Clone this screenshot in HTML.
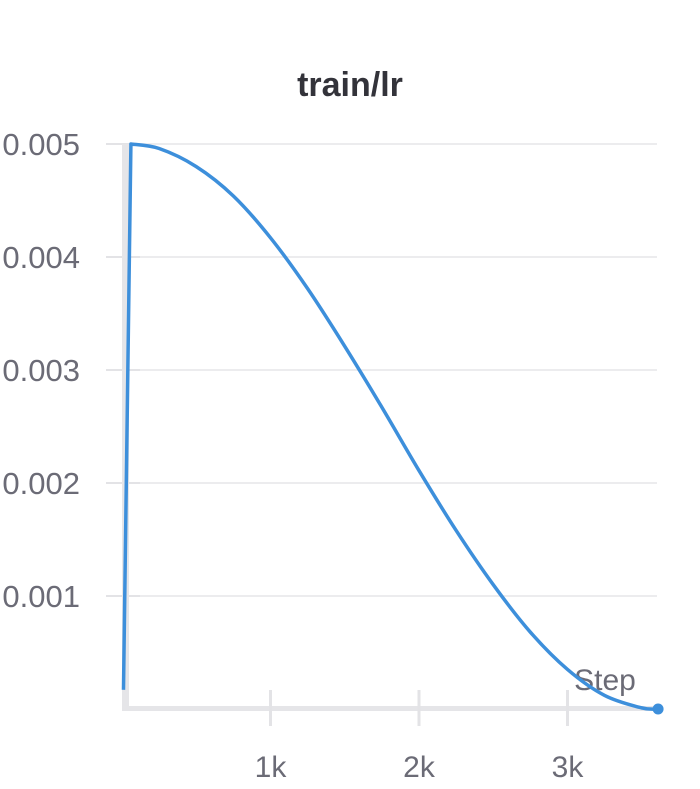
<!DOCTYPE html>
<html><head><meta charset="utf-8"><style>
body{margin:0;background:#fff;width:700px;height:784px;overflow:hidden}
text{font-family:"Liberation Sans",sans-serif}
</style></head><body>
<svg id="chart" width="700" height="784" xmlns="http://www.w3.org/2000/svg">
<text x="350" y="96" text-anchor="middle" font-size="34" font-weight="bold" fill="#33333a">train/lr</text>
<g id="grid"></g><g id="axes"></g><g id="series"></g>
</svg>
<script>
const steps=[10,60,250,500,750,1000,1250,1500,1750,2000,2250,2500,2750,3000,3250,3500,3610];
const lrValues=[0.00017,0.005,0.00496,0.0048,0.00454,0.00417,0.00372,0.00321,0.00267,0.00211,0.00158,0.0011,0.00068,0.00035,0.00012,0.00001,0];
const yTicks=[0.001,0.002,0.003,0.004,0.005];
const yTickLabels=["0.001","0.002","0.003","0.004","0.005"];
const xTicks=[1000,2000,3000];
const xTickLabels=["1k","2k","3k"];
const NS="http://www.w3.org/2000/svg";
const x=s=>122+s*0.1485;
const y=v=>709-v*113000;
function mk(tag,attrs,parent,txt){const e=document.createElementNS(NS,tag);for(const k in attrs)e.setAttribute(k,attrs[k]);if(txt!==undefined)e.textContent=txt;document.getElementById(parent).appendChild(e);return e;}
yTicks.forEach((t,i)=>{
 const g=mk('line',{x1:106,x2:657,y1:y(t),y2:y(t),stroke:'#e6e6e9','stroke-width':1.5},'grid');
 
 
 const tk=mk('line',{x1:106,x2:140,y1:y(t),y2:y(t),stroke:'#e3e3e6','stroke-width':2},'grid');
 
 
 const l=mk('text',{x:80,y:y(t)+11,'text-anchor':'end','font-size':31,fill:'#6b6b76'},'axes',yTickLabels[i]);
 
 
});
const ya=mk('rect',{x:122,y:144,width:7,height:566,fill:'#e5e5e8'},'axes');


const xa=mk('rect',{x:122,y:706,width:535,height:5,fill:'#e5e5e8'},'axes');


xTicks.forEach((t,i)=>{
 const tk=mk('line',{x1:x(t),x2:x(t),y1:690,y2:726,stroke:'#e3e3e6','stroke-width':3},'axes');
 
 
 const l=mk('text',{x:x(t),y:777,'text-anchor':'middle','font-size':30,fill:'#6b6b76'},'axes',xTickLabels[i]);
 
 
});
const xt=mk('text',{x:605,y:690,'text-anchor':'middle','font-size':30,fill:'#6b6b76'},'axes','Step');


function path(){let p='M'+x(steps[0])+' '+y(lrValues[0])+' L'+x(steps[1])+' '+y(lrValues[1]);
 for(let i=1;i<steps.length-1;i++){
  const p0=[x(steps[Math.max(i-1,1)]),y(lrValues[Math.max(i-1,1)])],p1=[x(steps[i]),y(lrValues[i])],p2=[x(steps[i+1]),y(lrValues[i+1])],p3=[x(steps[Math.min(i+2,steps.length-1)]),y(lrValues[Math.min(i+2,steps.length-1)])];
  const c1=[p1[0]+(p2[0]-p0[0])/6,p1[1]+(p2[1]-p0[1])/6],c2=[p2[0]-(p3[0]-p1[0])/6,p2[1]-(p3[1]-p1[1])/6];
  p+=' C'+c1.join(' ')+' '+c2.join(' ')+' '+p2.join(' ');}
 return p;}
const line=mk('path',{d:path(),fill:'none',stroke:'#3d8fdb','stroke-width':3.5,'stroke-linejoin':'round'},'series');


const last=steps.length-1;
const dot=mk('circle',{cx:x(steps[last]),cy:y(lrValues[last]),r:5.5,fill:'#3d8fdb'},'series');


</script>
</body></html>
